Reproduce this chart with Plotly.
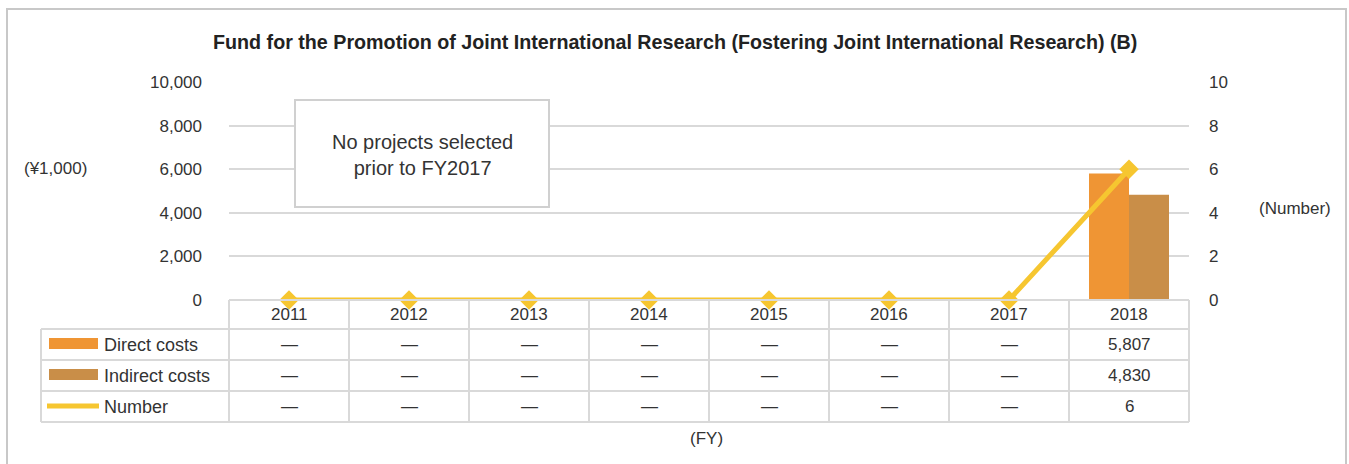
import plotly.graph_objects as go

# chart data
years = ["2011", "2012", "2013", "2014", "2015", "2016", "2017", "2018"]
direct_costs = [None, None, None, None, None, None, None, 5807]
indirect_costs = [None, None, None, None, None, None, None, 4830]
project_number = [0, 0, 0, 0, 0, 0, 0, 6]

title_text = "Fund for the Promotion of Joint International Research (Fostering Joint International Research) (B)"
note_text = "No projects selected<br>prior to FY2017"

DIRECT_COLOR = "#EF9534"
INDIRECT_COLOR = "#C98E48"
LINE_COLOR = "#F6C630"
GRID_COLOR = "#D9D9D9"
TEXT_COLOR = "#333333"
FONT = "Liberation Sans, Arial, sans-serif"

WIDTH, HEIGHT = 1349, 464
PLOT_L, PLOT_R, PLOT_T, PLOT_B = 229, 1189, 82, 300


def px_x(p):
    """Pixel x -> paper x."""
    return (p - PLOT_L) / (PLOT_R - PLOT_L)


def px_y(p):
    """Pixel y -> paper y."""
    return (PLOT_B - p) / (PLOT_B - PLOT_T)


def cell_text(value, fmt="{:,}"):
    if value is None or value == 0:
        return "—"
    return fmt.format(value)


def text_at(x, y, text, xref="paper", size=None, anchor="center"):
    note = {"x": x, "xref": xref, "y": px_y(y), "yref": "paper", "text": text,
            "showarrow": False, "xanchor": anchor, "yanchor": "middle"}
    if size:
        note["font"] = {"size": size}
    return note


figure = go.Figure()

figure.add_trace(go.Bar(
    x=years, y=direct_costs, name="Direct costs",
    marker={"color": DIRECT_COLOR, "line": {"width": 0}}
))
figure.add_trace(go.Bar(
    x=years, y=indirect_costs, name="Indirect costs",
    marker={"color": INDIRECT_COLOR, "line": {"width": 0}}
))
figure.add_trace(go.Scatter(
    x=years, y=project_number, name="Number", yaxis="y2",
    mode="lines+markers", cliponaxis=False,
    line={"color": LINE_COLOR, "width": 5},
    marker={"symbol": "diamond", "size": 15, "color": LINE_COLOR}
))

shapes = []
annotations = []

# outer frame
shapes.append({
    "type": "rect", "xref": "paper", "yref": "paper",
    "x0": px_x(7), "x1": px_x(1346), "y0": px_y(475), "y1": px_y(9),
    "line": {"color": "#C8C8C8", "width": 2}, "fillcolor": "rgba(0,0,0,0)", "layer": "below"
})

# data table grid
row_edges = [329, 360, 391, 422]
table_line = {"color": GRID_COLOR, "width": 2}
shapes.append({"type": "line", "xref": "paper", "yref": "paper",
               "x0": px_x(PLOT_L), "x1": px_x(PLOT_R), "y0": px_y(300), "y1": px_y(300),
               "line": table_line})
for edge in row_edges:
    shapes.append({"type": "line", "xref": "paper", "yref": "paper",
                   "x0": px_x(41), "x1": px_x(PLOT_R), "y0": px_y(edge), "y1": px_y(edge),
                   "line": table_line})
for k in range(len(years) + 1):
    xp = PLOT_L + 120 * k
    shapes.append({"type": "line", "xref": "paper", "yref": "paper",
                   "x0": px_x(xp), "x1": px_x(xp), "y0": px_y(300), "y1": px_y(422),
                   "line": table_line})
shapes.append({"type": "line", "xref": "paper", "yref": "paper",
               "x0": px_x(41), "x1": px_x(41), "y0": px_y(329), "y1": px_y(422),
               "line": table_line})

# legend keys inside the table
shapes.append({"type": "rect", "xref": "paper", "yref": "paper",
               "x0": px_x(49), "x1": px_x(98), "y0": px_y(349), "y1": px_y(338),
               "fillcolor": DIRECT_COLOR, "line": {"width": 0}})
shapes.append({"type": "rect", "xref": "paper", "yref": "paper",
               "x0": px_x(49), "x1": px_x(98), "y0": px_y(380), "y1": px_y(369),
               "fillcolor": INDIRECT_COLOR, "line": {"width": 0}})
shapes.append({"type": "line", "xref": "paper", "yref": "paper",
               "x0": px_x(47), "x1": px_x(99), "y0": px_y(406), "y1": px_y(406),
               "line": {"color": LINE_COLOR, "width": 5}})

# note box
shapes.append({"type": "rect", "xref": "paper", "yref": "paper",
               "x0": px_x(295), "x1": px_x(549), "y0": px_y(207), "y1": px_y(100),
               "fillcolor": "white", "line": {"color": "#D0D0D0", "width": 2}, "layer": "above"})

row_centers = [314.5, 344.5, 375.5, 406.5]
row_labels = ["Direct costs", "Indirect costs", "Number"]
row_values = [direct_costs, indirect_costs, project_number]

for index, year in enumerate(years):
    annotations.append(text_at(index, row_centers[0], year, xref="x"))
for label, values, center in zip(row_labels, row_values, row_centers[1:]):
    annotations.append(text_at(px_x(102), center, label, size=18, anchor="left"))
    for index, value in enumerate(values):
        annotations.append(text_at(index, center, cell_text(value), xref="x"))

annotations.append(text_at(px_x(422), 154.5, note_text, size=20))
annotations.append(text_at(px_x(55), 168, "(¥1,000)"))
annotations.append(text_at(px_x(1295), 208, "(Number)"))
annotations.append(text_at(px_x(706), 438, "(FY)"))
annotations.append({"x": px_x(675), "xref": "paper", "y": px_y(42), "yref": "paper",
                    "text": "<b>" + title_text + "</b>", "showarrow": False,
                    "xanchor": "center", "yanchor": "middle",
                    "font": {"size": 19.7, "color": "#222222"}})

figure.update_layout(
    width=WIDTH,
    height=HEIGHT,
    margin={"l": PLOT_L, "r": WIDTH - PLOT_R, "t": PLOT_T, "b": HEIGHT - PLOT_B, "pad": 0},
    paper_bgcolor="white",
    plot_bgcolor="white",
    font={"family": FONT, "size": 17, "color": TEXT_COLOR},
    barmode="group",
    bargap=1 / 3,
    bargroupgap=0,
    showlegend=False,
    shapes=shapes,
    annotations=annotations,
    xaxis={
        "type": "category",
        "range": [-0.5, 7.5],
        "showticklabels": False,
        "showgrid": False,
        "zeroline": False,
        "showline": False
    },
    yaxis={
        "range": [0, 10000],
        "dtick": 2000,
        "tickformat": ",",
        "gridcolor": GRID_COLOR,
        "gridwidth": 1.5,
        "zeroline": False,
        "showline": False,
        "ticklabelstandoff": 26
    },
    yaxis2={
        "range": [0, 10],
        "dtick": 2,
        "overlaying": "y",
        "side": "right",
        "showgrid": False,
        "zeroline": False,
        "showline": False,
        "ticklabelstandoff": 19
    }
)

# drop the default page margin so the figure sits at the window origin
figure.write_html(
    "out.html",
    config={"displayModeBar": False},
    post_script="document.body.style.margin = '0';"
)
